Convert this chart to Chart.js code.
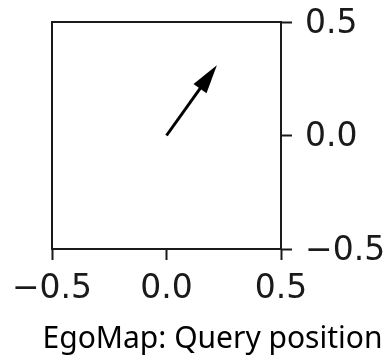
<!DOCTYPE html>
<html>
<head>
<meta charset="utf-8">
<script src="https://cdn.jsdelivr.net/npm/chart.js@4/dist/chart.umd.min.js"></script>
<style>
  html, body { margin: 0; padding: 0; background: #fff; }
  #wrap { width: 386px; height: 363px; }
</style>
</head>
<body>
<div id="wrap"><canvas id="c" width="386" height="363"></canvas></div>
<script>
// ---- data ----
const xTicks = [-0.5, 0.0, 0.5];
const yTicks = [-0.5, 0.0, 0.5];
const arrowStart = [0.0, 0.0];     // query origin (x, y)
const arrowEnd = [0.22, 0.31];     // arrow tip (x, y)
const chartTitle = 'EgoMap: Query position';

const INK = '#1a1a1a';
const fmt = v => (Math.abs(v) < 1e-9 ? 0 : v).toFixed(1).replace('-', '\u2212');

const arrowHead = {
  id: 'arrowHead',
  afterDatasetsDraw(chart) {
    const xs = chart.scales.x, ys = chart.scales.y;
    const x0 = xs.getPixelForValue(arrowStart[0]), y0 = ys.getPixelForValue(arrowStart[1]);
    const x1 = xs.getPixelForValue(arrowEnd[0]), y1 = ys.getPixelForValue(arrowEnd[1]);
    const ang = Math.atan2(y1 - y0, x1 - x0);
    const len = 29, half = 8;
    const ctx = chart.ctx;
    ctx.save();
    ctx.strokeStyle = '#000';
    ctx.lineWidth = 3;
    ctx.lineCap = 'butt';
    ctx.beginPath();
    ctx.moveTo(x0, y0);
    ctx.lineTo(x1 - Math.cos(ang) * (len - 4), y1 - Math.sin(ang) * (len - 4));
    ctx.stroke();
    const bx = x1 - Math.cos(ang) * len, by = y1 - Math.sin(ang) * len;
    const px = -Math.sin(ang), py = Math.cos(ang);
    ctx.fillStyle = '#000';
    ctx.beginPath();
    ctx.moveTo(x1, y1);
    ctx.lineTo(bx + px * half, by + py * half);
    ctx.lineTo(bx - px * half, by - py * half);
    ctx.closePath();
    ctx.fill();
    ctx.restore();
  }
};

new Chart(document.getElementById('c'), {
  type: 'scatter',
  data: {
    datasets: [{
      data: [{ x: arrowStart[0], y: arrowStart[1] }, { x: arrowEnd[0], y: arrowEnd[1] }],
      showLine: false,
      pointRadius: 0,
      borderColor: 'rgba(0,0,0,0)'
    }]
  },
  plugins: [arrowHead],
  options: {
    responsive: false,
    animation: false,
    layout: { padding: { left: 39, right: 0, top: 22, bottom: 0 } },
    plugins: {
      legend: { display: false },
      tooltip: { enabled: false },
      title: {
        display: true,
        position: 'bottom',
        text: chartTitle,
        color: '#000',
        font: { family: 'Noto Sans', size: 30, weight: 'normal', lineHeight: 1.2 },
        padding: { top: 0, bottom: 6 }
      }
    },
    scales: {
      x: {
        type: 'linear', position: 'bottom', min: -0.5, max: 0.5,
        afterBuildTicks: s => { s.ticks = xTicks.map(v => ({ value: v })); },
        afterFit: s => { s.height = 72; s.paddingLeft = 0; s.paddingRight = 0; },
        ticks: { callback: fmt, color: '#1a1a1a', padding: 10, maxRotation: 0,
                 font: { family: 'DejaVu Sans', size: 33 } },
        grid: { drawOnChartArea: false, drawTicks: true, tickLength: 11, tickWidth: 2, tickColor: INK },
        border: { color: INK, width: 2 }
      },
      xTop: {
        type: 'linear', position: 'top', min: -0.5, max: 0.5,
        afterFit: s => { s.height = 0; },
        ticks: { display: false },
        grid: { display: false },
        border: { color: INK, width: 2 }
      },
      y: {
        type: 'linear', position: 'right', min: -0.5, max: 0.5,
        afterBuildTicks: s => { s.ticks = yTicks.map(v => ({ value: v })); },
        afterFit: s => { s.width = 105; s.paddingTop = 0; s.paddingBottom = 0; },
        ticks: { callback: fmt, color: '#1a1a1a', padding: 13, labelOffset: 2,
                 font: { family: 'DejaVu Sans', size: 33 } },
        grid: { drawOnChartArea: false, drawTicks: true, tickLength: 11, tickWidth: 2, tickColor: INK },
        border: { color: INK, width: 2 }
      },
      yLeft: {
        type: 'linear', position: 'left', min: -0.5, max: 0.5,
        afterFit: s => { s.width = 13; },
        ticks: { display: false },
        grid: { display: false },
        border: { color: INK, width: 2 }
      }
    }
  }
});
</script>
</body>
</html>
